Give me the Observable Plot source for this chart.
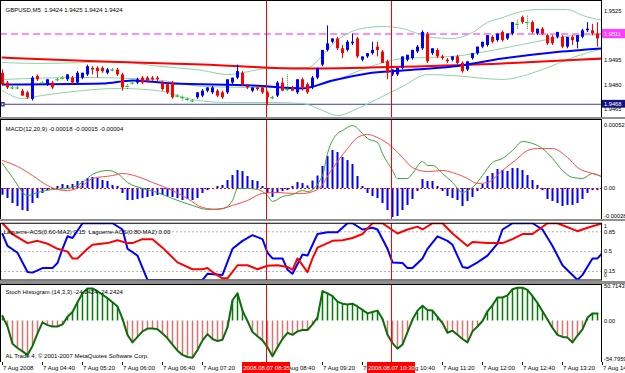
<!DOCTYPE html>
<html><head><meta charset="utf-8">
<script src="https://cdn.jsdelivr.net/npm/d3@7"></script>
<script src="https://cdn.jsdelivr.net/npm/@observablehq/plot@0.6"></script>
<style>
html,body{margin:0;padding:0;background:#fff;}
#chart{position:relative;width:625px;height:373px;background:#8f8f8f;overflow:hidden;}
.pane{position:absolute;left:0;width:625px;overflow:hidden;}
.pane svg{display:block;}
</style></head><body><div id="chart"></div>
<script>
// ---------- DATA ----------
const headerPrice = "GBPUSD,M5  1.9424 1.9425 1.9424 1.9424";
const headerMacd = "MACD(12,20,9) -0.00018 -0.00015 -0.00004";
const headerLag = "Laguerre-ACS(0.60-MA2) 0.15  Laguerre-ACS(0.80-MA2) 0.00";
const headerStoch = "Stoch Histogram (14,3,3) -24.2424 -24.2424";
const copyright = "AL Trade 4, \u00a9 2001-2007 MetaQuotes Software Corp.";

const open = [1.9487,1.9481,1.9478,1.9478,1.9476,1.9475,1.9471,1.9485,1.9481,1.9480,
1.9481,1.9483,1.9484,1.9483,1.9484,1.9481,1.9484,1.9486,1.9490,1.9490,
1.9490,1.9487,1.9489,1.9489,1.9486,1.9479,1.9481,1.9481,1.9484,1.9484,
1.9484,1.9484,1.9481,1.9480,1.9481,1.9473,1.9472,1.9471,1.9470,1.9472,
1.9473,1.9476,1.9475,1.9476,1.9475,1.9475,1.9481,1.9484,1.9487,1.9479,
1.9476,1.9478,1.9478,1.9475,1.9472,1.9473,1.9481,1.9477,1.9478,1.9475,
1.9483,1.9480,1.9478,1.9484,1.9492,1.9501,1.9506,1.9508,1.9502,1.9501,
1.9505,1.9508,1.9495,1.9497,1.9499,1.9503,1.9500,1.9494,1.9486,1.9486,
1.9490,1.9495,1.9496,1.9500,1.9502,1.9511,1.9499,1.9501,1.9497,1.9495,
1.9495,1.9497,1.9493,1.9489,1.9496,1.9499,1.9503,1.9504,1.9509,1.9507,
1.9512,1.9508,1.9511,1.9517,1.9521,1.9518,1.9518,1.9511,1.9514,1.9510,
1.9509,1.9509,1.9509,1.9503,1.9509,1.9506,1.9509,1.9513,1.9513,1.9511,1.9508];
const high = [1.9489,1.9482,1.9479,1.9479,1.9477,1.9476,1.9485,1.9486,1.9482,1.9483,
1.9482,1.9484,1.9485,1.9486,1.9485,1.9488,1.9487,1.9492,1.9491,1.9491,
1.9491,1.9490,1.9490,1.9490,1.9487,1.9480,1.9482,1.9484,1.9485,1.9485,
1.9485,1.9485,1.9482,1.9481,1.9482,1.9474,1.9473,1.9472,1.9471,1.9475,
1.9477,1.9478,1.9479,1.9477,1.9476,1.9483,1.9484,1.9492,1.9488,1.9480,
1.9478,1.9479,1.9479,1.9476,1.9473,1.9482,1.9484,1.9486,1.9479,1.9483,
1.9484,1.9481,1.9485,1.9490,1.9501,1.9516,1.9508,1.9509,1.9504,1.9507,
1.9511,1.9509,1.9497,1.9499,1.9506,1.9506,1.9501,1.9495,1.9489,1.9490,
1.9497,1.9498,1.9501,1.9504,1.9513,1.9512,1.9502,1.9502,1.9498,1.9496,
1.9497,1.9498,1.9494,1.9494,1.9499,1.9503,1.9506,1.9510,1.9510,1.9511,
1.9513,1.9511,1.9518,1.9520,1.9522,1.9522,1.9519,1.9514,1.9515,1.9511,
1.9510,1.9512,1.9510,1.9509,1.9510,1.9510,1.9514,1.9518,1.9517,1.9518,1.9512];
const low = [1.9479,1.9477,1.9477,1.9477,1.9473,1.9471,1.9470,1.9482,1.9480,1.9479,
1.9477,1.9482,1.9483,1.9482,1.9480,1.9480,1.9483,1.9485,1.9486,1.9484,
1.9487,1.9486,1.9488,1.9485,1.9476,1.9477,1.9480,1.9480,1.9480,1.9481,
1.9482,1.9482,1.9476,1.9474,1.9471,1.9472,1.9470,1.9470,1.9469,1.9471,
1.9472,1.9475,1.9474,1.9472,1.9471,1.9474,1.9480,1.9483,1.9479,1.9477,
1.9475,1.9476,1.9474,1.9467,1.9471,1.9472,1.9476,1.9476,1.9476,1.9474,
1.9476,1.9474,1.9477,1.9483,1.9491,1.9500,1.9505,1.9501,1.9496,1.9500,
1.9504,1.9496,1.9494,1.9496,1.9498,1.9497,1.9493,1.9483,1.9485,1.9485,
1.9489,1.9494,1.9495,1.9499,1.9501,1.9493,1.9498,1.9496,1.9495,1.9493,
1.9494,1.9492,1.9487,1.9488,1.9495,1.9498,1.9502,1.9503,1.9505,1.9506,
1.9506,1.9507,1.9510,1.9514,1.9517,1.9514,1.9511,1.9510,1.9510,1.9504,
1.9504,1.9508,1.9502,1.9502,1.9504,1.9502,1.9508,1.9512,1.9510,1.9503,1.9506];
const close = [1.9480,1.9478,1.9478,1.9478,1.9473,1.9472,1.9484,1.9483,1.9481,1.9483,
1.9478,1.9483,1.9484,1.9486,1.9481,1.9487,1.9487,1.9491,1.9489,1.9488,
1.9488,1.9489,1.9489,1.9486,1.9478,1.9479,1.9481,1.9483,1.9481,1.9482,
1.9483,1.9483,1.9477,1.9475,1.9472,1.9473,1.9472,1.9471,1.9470,1.9475,
1.9476,1.9478,1.9478,1.9473,1.9472,1.9483,1.9484,1.9488,1.9480,1.9478,
1.9478,1.9477,1.9475,1.9472,1.9472,1.9481,1.9476,1.9477,1.9476,1.9483,
1.9478,1.9475,1.9484,1.9490,1.9501,1.9505,1.9508,1.9502,1.9499,1.9506,
1.9506,1.9497,1.9497,1.9499,1.9501,1.9501,1.9493,1.9487,1.9489,1.9490,
1.9497,1.9498,1.9501,1.9503,1.9512,1.9494,1.9502,1.9497,1.9496,1.9494,
1.9497,1.9493,1.9488,1.9494,1.9499,1.9503,1.9506,1.9510,1.9506,1.9511,
1.9507,1.9511,1.9518,1.9517,1.9518,1.9518,1.9512,1.9514,1.9511,1.9505,
1.9505,1.9512,1.9503,1.9509,1.9507,1.9510,1.9513,1.9514,1.9511,1.9508,1.9511];

const maSlowBars = [0,20,40,60,80,100,110,120];
const maSlow = [1.94966,1.94942,1.94924,1.94899,1.94910,1.94930,1.94945,1.94960];
const maFastBars = [0,20,26,34,50,60,66,73,80,90,100,110,120];
const maFast = [1.94801,1.94807,1.94826,1.94807,1.94795,1.94777,1.94826,1.94869,1.94887,1.94911,1.94960,1.94997,1.95022];
const bbUpperBars = [0,7,17,23,30,40,45,53,61,64,66,69,73,76,80,83,86,90,94,97,100,103,107,113,116,120];
const bbUpper = [1.94936,1.94930,1.94936,1.94942,1.94917,1.94887,1.94862,1.94899,1.94905,1.94979,1.95046,1.95113,1.95150,1.95156,1.95144,1.95113,1.95089,1.95083,1.95120,1.95181,1.95211,1.95242,1.95260,1.95260,1.95224,1.95193];
const bbMidBars = [0,16,30,40,50,56,62,66,72,80,90,100,108,114,120];
const bbMid = [1.94832,1.94844,1.94832,1.94789,1.94783,1.94783,1.94789,1.94820,1.94893,1.94960,1.94973,1.95022,1.95071,1.95101,1.95107];
const bbLowerBars = [0,4,8,16,23,31,38,45,53,60,64,67,71,76,80,85,90,100,108,114,120];
const bbLower = [1.94764,1.94715,1.94734,1.94764,1.94777,1.94764,1.94709,1.94691,1.94691,1.94685,1.94642,1.94611,1.94654,1.94728,1.94789,1.94862,1.94856,1.94832,1.94893,1.94966,1.95022];
const priceLevels = [1.9511, 1.9468];
const priceTicks = [1.9525, 1.9510, 1.9495, 1.9480, 1.9465];

// MACD values in units of 0.00001
const macdHist = [-5.5,-8.3,-12.4,-14.9,-18.2,-19,-12.4,-8.3,-4.1,-1.7,
-0.8,1.7,3.3,2.5,3.3,5.8,5.8,8.3,9.1,8.3,
6.6,5.8,2.5,1.7,-4.1,-9.9,-9.9,-9.1,-8.3,-7.4,
-6.6,-5.8,-5.8,-6.6,-7.4,-8.3,-9.9,-9.1,-9.9,-8.3,
-4.1,-1.7,0,1.7,2.5,6.6,10.7,14.9,14,9.9,
6.6,5.8,1.7,-4.1,-7.4,-4.1,-2.5,-1.7,1.7,5,
4.1,2.1,6.2,10.3,18.2,26.4,31.4,29.7,25.6,23.1,
19.8,9.9,1.7,-4.1,-6.6,-8.3,-12.4,-18.2,-24,-23.1,
-18.2,-14,-9.1,-2.5,7.4,5.8,5.8,1.7,-2.5,-6.6,
-8.3,-9.9,-14.9,-10.7,-7.4,-2.5,3.3,9.9,12.4,15.7,
14.9,14,16.5,16.5,14.9,10.7,6.6,2.5,-1.7,-9.1,
-10.7,-12.4,-14.9,-14,-14,-12.4,-9.1,-4.1,-1.7,-1.7];
const macdMainBars = [0,2,5,7,10,13,16,18,21,23,25,28,31,34,38,41,44,46,47,49,51,53,54,56,58,60,61,64,65,67,68,70,72,73,75,76,78,79,81,82,84,85,86,88,90,92,93,94,96,98,100,102,104,106,108,110,112,114,116,118,120];
const macdMain = [20.7,9.1,-5.8,-3.3,-0.8,0,5,11.6,14.9,12.4,5,0,-3.3,-8.3,-14,-17.3,-16.5,-9.9,0,0,-0.8,-5.8,-10.7,-6.6,-5,-1.7,-2.5,10.7,28.9,45.4,47.9,52,45.4,41.3,38,28.9,14.9,8.3,8.3,12.4,22.3,19,19,12.4,5,-3.3,-1.7,0.8,10.7,21.5,24.8,31.4,38.8,37.2,33,24.8,14.9,9.1,8.3,12.4,9.1];
const macdSignalBars = [0,3,6,9,11,13,16,18,22,24,27,30,34,37,40,43,46,49,52,55,58,60,63,66,69,71,73,75,78,80,82,85,88,90,93,95,97,100,103,105,107,110,113,115,118,120];
const macdSignal = [23.1,18.2,10.7,2.5,-0.8,-1.7,2.5,8.3,10.7,12.4,9.9,5,-1.7,-8.3,-15.7,-17.3,-14,-9.9,-4.1,-3.3,-4.1,-4.1,-0.8,16.5,33,42.1,44.6,42.1,33.9,25.6,17.3,14,14.9,13.2,8.3,4.1,5,14.9,24.8,31.4,33,33,25.6,17.3,12.4,9.9];
const macdTicks = [52, 0];

const lagFastBars = [0,1,3,5,6,8,10,11,12,13,14,16,20,22,24,25,27,29,40,41,44,46,48,50,52,53,54,56,57,58,60,61,63,65,67,69,70,72,74,75,77,78,80,81,82,84,85,87,89,90,92,93,95,97,99,100,102,106,108,110,112,115,116,118,119,120];
const lagFast = [0.81,0.60,0.48,0.14,0.13,0.21,0.21,0.30,0.55,0.77,0.74,1,1,1,0.89,0.55,0.43,0,0,0.11,0.09,0.55,0.69,0.79,0.72,0.48,0.38,0.38,0.18,0.11,0.45,0.43,0.81,0.84,0.84,1,1,0.89,0.92,0.89,0.55,0.31,0.30,0.21,0.21,0.38,0.55,0.77,0.69,0.62,0.23,0.21,0.31,0.43,0.64,0.89,1,1,0.89,0.60,0.26,0,0.09,0.38,0.38,0.48];
const lagSlowBars = [0,2,5,7,9,11,13,14,15,17,18,21,23,25,26,28,30,32,35,38,40,41,42,44,45,47,49,51,53,55,57,58,59,61,62,63,66,68,70,72,73,74,76,79,81,83,84,86,88,90,93,94,97,100,102,104,106,109,111,115,117,120];
const lagSlow = [1,0.81,0.65,0.69,0.64,0.55,0.50,0.38,0.38,0.55,0.62,0.65,0.70,0.65,0.65,0.72,0.72,0.57,0.31,0.19,0.19,0.21,0.14,0.03,0.03,0.26,0.26,0.19,0.25,0.26,0.23,0.18,0.38,0.14,0.38,0.57,0.69,0.70,0.74,0.81,0.91,1,1,0.82,0.89,0.94,0.89,1,1,0.82,0.60,0.67,0.65,0.65,0.72,0.81,0.81,1,1,0.86,0.92,1];
const lagLevels = [0.85, 0.5, 0.15];

const stoch = [7,-8,-33,-39,-44,-49,-36,-18,-2,-6,
-8,-8,-5,6,13,27,40,47,47,43,
38,33,27,21,3,-20,-31,-23,-15,-11,
-11,-12,-18,-25,-34,-43,-49,-52,-53,-42,
-28,-19,-26,-29,-27,-9,30,40,15,0,
-16,-22,-28,-38,-51,-38,-26,-17,-20,-15,
-13,-13,-5,5,43,40,36,28,25,24,
25,21,16,11,13,15,3,-20,-32,-40,
-34,-16,2,15,22,16,15,6,-3,-17,
-14,-20,-26,-31,-15,-8,0,14,23,34,
34,37,46,48,48,45,36,26,14,2,
-10,-20,-23,-24,-31,-21,-12,5,11,11];
const stochTicks = [50.7143, 0, -54.7959];

const timeTickBars = [0,8,16,24,32,40,48,56,64,72,80,88,96,104,112,120];
const timeLabels = ["7 Aug 2008","7 Aug 04:40","7 Aug 05:20","7 Aug 06:00","7 Aug 06:40","7 Aug 07:20","7 Aug 08:00","7 Aug 08:40","7 Aug 09:20","7 Aug 10:00","7 Aug 10:40","7 Aug 11:20","7 Aug 12:00","7 Aug 12:40","7 Aug 13:20","7 Aug 14:00"];
const cursorBars = [52.8, 77.8];
const cursorLabels = ["2008.08.07 08:35", "2008.08.07 10:30"];

// ---------- DRAW ----------
const FONT = "'Liberation Sans', Arial, sans-serif";
const XMIN = -0.4, XMAX = 119.8, AXW = 4.8;
const BULL = "#0000ff", BEAR = "#ff0000", DOJI = "#00b400";
const chart = document.getElementById("chart");

function addPane(top, height, y, marks, mt = 0, mb = 0) {
  const svg = Plot.plot({
    width: 625, height, marginLeft: 0, marginRight: 24, marginTop: mt, marginBottom: mb,
    x: {domain: [XMIN, XMAX], axis: null},
    y: {...y, axis: null},
    style: {background: "#fff", fontFamily: FONT, fontSize: "6px", color: "#000", overflow: "hidden"},
    marks
  });
  const d = document.createElement("div");
  d.className = "pane";
  d.style.top = top + "px";
  d.style.height = height + "px";
  d.appendChild(svg);
  chart.appendChild(d);
}
const pts = (bx, vals) => bx.map((b, k) => ({b, v: vals[k]}));
const cursorRule = () => Plot.ruleX(cursorBars, {x: d => d, stroke: "#ff0000", strokeWidth: 1, shapeRendering: "crispEdges"});
const axisText = (ticks, fmt, extra = {}) => Plot.text(ticks, {y: d => d, text: fmt, frameAnchor: "right", dx: 2.5, textAnchor: "start", fill: "#000", fontSize: 5.7, ...extra});

// Price pane
const bars = open.map((o, i) => ({i, o, h: high[i], l: low[i], c: close[i]}));
const up = bars.filter(d => d.c > d.o), dn = bars.filter(d => d.c < d.o), dj = bars.filter(d => d.c === d.o);
addPane(0, 117, {domain: [1.94599, 1.953155]}, [
  Plot.ruleY([priceLevels[0]], {y: d => d, stroke: "#ff8cff", strokeWidth: 2, strokeDasharray: "7,4"}),
  Plot.ruleY([priceLevels[1]], {y: d => d, stroke: "#3c3caa", strokeWidth: 1}),
  Plot.dot([{b: 0, v: priceLevels[1]}], {x: "b", y: "v", symbol: "square", r: 1.7, stroke: "#3c3caa", fill: "#fff"}),
  Plot.line(pts(bbUpperBars, bbUpper), {x: "b", y: "v", stroke: "#8fd3a4", strokeWidth: 1, curve: "monotone-x", clip: true}),
  Plot.line(pts(bbMidBars, bbMid), {x: "b", y: "v", stroke: "#8fd3a4", strokeWidth: 1, curve: "monotone-x", clip: true}),
  Plot.line(pts(bbLowerBars, bbLower), {x: "b", y: "v", stroke: "#8fd3a4", strokeWidth: 1, curve: "monotone-x", clip: true}),
  Plot.line(pts(maSlowBars, maSlow), {x: "b", y: "v", stroke: "#ff0000", strokeWidth: 2, curve: "monotone-x", clip: true}),
  Plot.line(pts(maFastBars, maFast), {x: "b", y: "v", stroke: "#0000ff", strokeWidth: 2, curve: "monotone-x", clip: true}),
  Plot.ruleX(up, {x: "i", y1: "l", y2: "h", stroke: BULL, strokeWidth: 1, clip: true}),
  Plot.ruleX(up, {x: "i", y1: "o", y2: "c", stroke: BULL, strokeWidth: 3, clip: true}),
  Plot.ruleX(dn, {x: "i", y1: "l", y2: "h", stroke: BEAR, strokeWidth: 1, clip: true}),
  Plot.ruleX(dn, {x: "i", y1: "o", y2: "c", stroke: BEAR, strokeWidth: 3, clip: true}),
  Plot.ruleX(dj, {x: "i", y1: "l", y2: "h", stroke: DOJI, strokeWidth: 1, strokeDasharray: "1,1", clip: true}),
  Plot.ruleY(dj, {y: "c", x1: d => d.i - 0.35, x2: d => d.i + 0.35, stroke: DOJI, strokeWidth: 1, clip: true}),
  cursorRule(),
  axisText(priceTicks, d => d.toFixed(4)),
  Plot.rect([priceLevels[0]], {x1: () => XMAX, x2: () => XMAX + AXW, y1: d => d - 0.00028, y2: d => d + 0.00028, fill: "#ff3cff"}),
  Plot.rect([priceLevels[1]], {x1: () => XMAX, x2: () => XMAX + AXW, y1: d => d - 0.00024, y2: d => d + 0.00024, fill: "#12127a"}),
  axisText(priceLevels, d => d.toFixed(4), {fill: "#fff"}),
  Plot.text([headerPrice], {text: d => d, frameAnchor: "top-left", dx: 5, dy: 7, textAnchor: "start", fill: "#000"}),
  Plot.frame({stroke: "#000"})
]);

// MACD pane
addPane(119, 100, {domain: [-25.6, 57]}, [
  Plot.ruleX(macdHist.map((v, i) => ({i, v})), {x: "i", y1: () => 0, y2: "v", stroke: "#0000ff", strokeWidth: 2}),
  Plot.ruleY([0], {y: d => d, stroke: "#ff0000", strokeDasharray: "2,2", strokeWidth: 1}),
  Plot.line(pts(macdMainBars, macdMain), {x: "b", y: "v", stroke: "#3ea33e", strokeWidth: 1, curve: "monotone-x", clip: true}),
  Plot.line(pts(macdSignalBars, macdSignal), {x: "b", y: "v", stroke: "#ff4a4a", strokeWidth: 1, curve: "monotone-x", clip: true}),
  cursorRule(),
  axisText(macdTicks, d => d === 0 ? "0.00" : (d * 1e-5).toFixed(5)),
  Plot.text(["-0.00028"], {text: d => d, frameAnchor: "bottom-right", dx: 2.5, dy: -2, textAnchor: "start", fill: "#000", fontSize: 5.7}),
  Plot.text([headerMacd], {text: d => d, frameAnchor: "top-left", dx: 5, dy: 7, textAnchor: "start", fill: "#000"}),
  Plot.frame({stroke: "#000"})
]);

// Laguerre pane
addPane(221, 60, {domain: [0, 1]}, [
  Plot.ruleY(lagLevels, {y: d => d, stroke: "#b4b4b4", strokeDasharray: "2,2"}),
  Plot.line(pts(lagFastBars, lagFast), {x: "b", y: "v", stroke: "#0000ff", strokeWidth: 2, clip: true}),
  Plot.line(pts(lagSlowBars, lagSlow), {x: "b", y: "v", stroke: "#ff0000", strokeWidth: 2, clip: true}),
  cursorRule(),
  axisText(lagLevels, d => String(d)),
  Plot.text(["1"], {text: d => d, frameAnchor: "top-right", dx: 2.5, dy: 1, textAnchor: "start", fontSize: 5, fill: "#000"}),
  Plot.text(["0"], {text: d => d, frameAnchor: "bottom-right", dx: 2.5, dy: -3, textAnchor: "start", fontSize: 5, fill: "#000"}),
  Plot.text([headerLag], {text: d => d, frameAnchor: "top-left", dx: 3, dy: 6.5, textAnchor: "start", fill: "#000"}),
  Plot.frame({stroke: "#000"})
], 1.75, 1.5);

// Stochastic pane
const st = stoch.map((v, i) => ({i, v}));
addPane(284, 78, {domain: [-60, 52.75]}, [
  Plot.ruleX(st.filter(d => d.v >= 0), {x: "i", y1: () => 0, y2: "v", stroke: "#007a00", strokeWidth: 1.5}),
  Plot.ruleX(st.filter(d => d.v < 0), {x: "i", y1: () => 0, y2: "v", stroke: "#e07070", strokeWidth: 1.5}),
  Plot.line(st, {x: "i", y: "v", stroke: "#0b6e0b", strokeWidth: 2, clip: true}),
  cursorRule(),
  axisText(stochTicks, d => d === 0 ? "0.00" : d.toFixed(4)),
  Plot.text([headerStoch], {text: d => d, frameAnchor: "top-left", dx: 5, dy: 5, textAnchor: "start", fill: "#000"}),
  Plot.text([copyright], {text: d => d, frameAnchor: "bottom-left", dx: 5, dy: -5, textAnchor: "start", fill: "#000"}),
  Plot.frame({stroke: "#000"})
]);

// Time axis strip
const cur = cursorBars.map((b, k) => ({b, t: cursorLabels[k]}));
addPane(362, 11, {domain: [0, 1]}, [
  Plot.ruleX(timeTickBars, {x: d => d, y1: () => 1, y2: () => 0.72, stroke: "#000"}),
  Plot.text(timeTickBars, {x: d => d, y: () => 0.45, text: (d, k) => timeLabels[k], textAnchor: "start", dx: 0.5, fill: "#000"}),
  Plot.rect(cur, {x1: d => d.b - 4.8, x2: d => d.b + 4.8, y1: () => 0, y2: () => 1, fill: "#ff0000"}),
  Plot.text(cur, {x: "b", y: () => 0.45, text: "t", fill: "#fff"})
]);
</script></body></html>
